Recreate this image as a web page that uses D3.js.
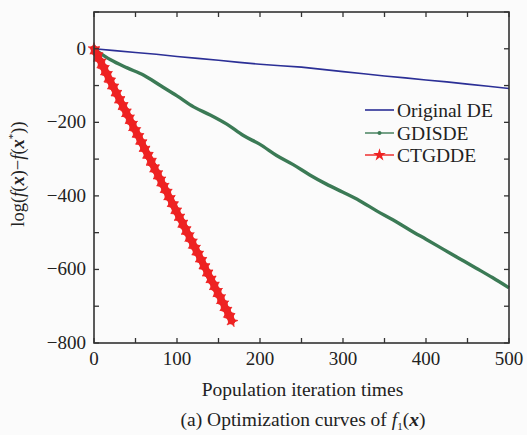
<!DOCTYPE html>
<html><head><meta charset="utf-8">
<script src="https://cdn.jsdelivr.net/npm/d3@7"></script>
<style>
html,body{margin:0;padding:0;background:#fbfbfb;}
svg{display:block;font-family:"Liberation Serif","Times New Roman",serif;}
</style></head>
<body>
<svg id="c" width="527" height="435"></svg>
<script>
// ---- data ----
const deX = [0,25,50,75,100,125,150,175,200,225,250,275,300,325,350,375,400,425,450,475,500];
const deY = [0,-5,-10,-15,-21,-26,-31,-37,-42,-46,-50,-56,-62,-68,-74,-79,-85,-90,-96,-102,-108];

const gdX = [0,20,40,60,80,100,120,140,160,180,200,220,240,260,280,300,320,340,360,380,400,420,440,460,480,500];
const gdY = [0,-30,-52,-72,-100,-128,-158,-180,-205,-236,-260,-290,-315,-343,-368,-390,-413,-440,-465,-492,-518,-544,-570,-596,-622,-650];

const ctX = [0,2,4,6,8,10,12,14,16,18,20,22,24,26,28,30,32,34,36,38,40,42,44,46,48,50,52,54,56,58,60,62,64,66,68,70,72,74,76,78,80,82,84,86,88,90,92,94,96,98,100,102,104,106,108,110,112,114,116,118,120,122,124,126,128,130,132,134,136,138,140,142,144,146,148,150,152,154,156,158,160,162,164,166];
const ctY = [0,-8,-17,-27,-35,-44,-54,-62,-71,-80,-90,-98,-107,-116,-125,-134,-143,-151,-160,-170,-178,-187,-196,-205,-214,-223,-231,-240,-249,-258,-268,-276,-285,-294,-302,-312,-321,-329,-338,-347,-356,-365,-374,-382,-391,-401,-409,-418,-427,-436,-445,-454,-462,-471,-480,-490,-498,-507,-516,-525,-534,-543,-551,-560,-569,-578,-587,-596,-605,-614,-623,-631,-640,-649,-658,-667,-676,-685,-694,-703,-712,-720,-730,-740];

const xTicksMajor = [0,100,200,300,400,500];
const xTicksMinor = [0,50,100,150,200,250,300,350,400,450,500];
const yTicksMajor = [0,-200,-400,-600,-800];
const yTicksMinor = [100,0,-100,-200,-300,-400,-500,-600,-700,-800];
const legendNames = ["Original DE","GDISDE","CTGDDE"];
const colors = ["#2b2f96","#3b7a55","#ee2222"];

// ---- layout ----
const svg = d3.select("#c");
const L = 94, R = 509, T = 12, B = 343;
const x = d3.scaleLinear().domain([0,500]).range([L,R]);
const y = d3.scaleLinear().domain([-800,100]).range([B,T]);
const axisCol = "#333";

const plot = svg.append("g");
const line = d3.line().x(d=>x(d[0])).y(d=>y(d[1]));
const smooth = d3.line().x(d=>x(d[0])).y(d=>y(d[1])).curve(d3.curveMonotoneX);
const zip = (a,b)=>a.map((v,i)=>[v,b[i]]);

// Original DE
plot.append("path").datum(zip(deX,deY)).attr("d",line)
  .attr("fill","none").attr("stroke",colors[0]).attr("stroke-width",1.6);

// GDISDE
const gd = zip(gdX,gdY);
plot.append("path").datum(gd).attr("d",smooth)
  .attr("fill","none").attr("stroke",colors[1]).attr("stroke-width",3.4).attr("stroke-linejoin","round");

// CTGDDE
const ct = zip(ctX,ctY);
plot.append("path").datum(ct).attr("d",line)
  .attr("fill","none").attr("stroke",colors[2]).attr("stroke-width",7).attr("stroke-linecap","round");
const star = d3.symbol().type(d3.symbolStar).size(44);
plot.selectAll("path.ct").data(ct).enter().append("path")
  .attr("transform",d=>`translate(${x(d[0])},${y(d[1])}) rotate(${(d[0]*17)%72})`)
  .attr("d",star).attr("fill",colors[2]).attr("stroke",colors[2]).attr("stroke-width",0.6);

// ---- frame and ticks ----
const tl = 5;
const ax = svg.append("g").attr("stroke",axisCol).attr("stroke-width",1.3);
xTicksMinor.forEach(v=>{
  ax.append("line").attr("x1",x(v)).attr("x2",x(v)).attr("y1",B).attr("y2",B-tl);
  ax.append("line").attr("x1",x(v)).attr("x2",x(v)).attr("y1",T).attr("y2",T+tl);
});
yTicksMinor.forEach(v=>{
  ax.append("line").attr("y1",y(v)).attr("y2",y(v)).attr("x1",L).attr("x2",L+tl);
  ax.append("line").attr("y1",y(v)).attr("y2",y(v)).attr("x1",R).attr("x2",R-tl);
});
svg.append("rect").attr("x",L).attr("y",T).attr("width",R-L).attr("height",B-T)
  .attr("fill","none").attr("stroke",axisCol).attr("stroke-width",1.6);

const fmt = v => v<0 ? "\u2212"+Math.abs(v) : ""+v;
svg.append("g").selectAll("text").data(xTicksMajor).enter().append("text")
  .attr("x",d=>x(d)).attr("y",B+22).attr("text-anchor","middle")
  .attr("font-size",19).attr("fill","#222").text(d=>d);
svg.append("g").selectAll("text").data(yTicksMajor).enter().append("text")
  .attr("x",L-8).attr("y",d=>y(d)+6).attr("text-anchor","end")
  .attr("font-size",19).attr("fill","#222").text(fmt);

// axis titles
svg.append("text").attr("x",(L+R)/2+1).attr("y",396).attr("text-anchor","middle")
  .attr("font-size",19.5).attr("fill","#222").text("Population iteration times");

const yl = svg.append("text").attr("transform",`translate(24,174) rotate(-90)`)
  .attr("text-anchor","middle").attr("font-size",18.5).attr("fill","#222");
yl.append("tspan").text("log(");
yl.append("tspan").attr("font-style","italic").text("f");
yl.append("tspan").text("(");
yl.append("tspan").attr("font-style","italic").attr("font-weight","bold").text("x");
yl.append("tspan").text(")\u2212");
yl.append("tspan").attr("font-style","italic").text("f");
yl.append("tspan").text("(");
yl.append("tspan").attr("font-style","italic").attr("font-weight","bold").text("x");
yl.append("tspan").attr("font-size",11).attr("dy",-8).text("*");
yl.append("tspan").attr("dy",8).text("))");

// caption
const cap = svg.append("text").attr("x",303).attr("y",426).attr("text-anchor","middle")
  .attr("font-size",19.5).attr("fill","#222");
cap.append("tspan").text("(a) Optimization curves of ");
cap.append("tspan").attr("font-style","italic").text("f");
cap.append("tspan").attr("font-size",11).attr("dy",4).text("1");
cap.append("tspan").attr("dy",-4).text("(");
cap.append("tspan").attr("font-style","italic").attr("font-weight","bold").text("x");
cap.append("tspan").text(")");

// ---- legend ----
const lg = svg.append("g");
const ly = [110,133,155];
legendNames.forEach((n,i)=>{
  lg.append("line").attr("x1",365).attr("x2",394).attr("y1",ly[i]).attr("y2",ly[i])
    .attr("stroke",colors[i]).attr("stroke-width",i===0?1.6:1.4);
  if(i===1) lg.append("circle").attr("cx",379.5).attr("cy",ly[i]).attr("r",2).attr("fill",colors[1]);
  if(i===2) lg.append("path").attr("transform",`translate(379.5,${ly[i]})`)
    .attr("d",d3.symbol().type(d3.symbolStar).size(50)).attr("fill",colors[2]);
  lg.append("text").attr("x",397).attr("y",ly[i]+6.5).attr("font-size",19.5)
    .attr("fill","#222").text(n);
});
</script>
</body></html>
